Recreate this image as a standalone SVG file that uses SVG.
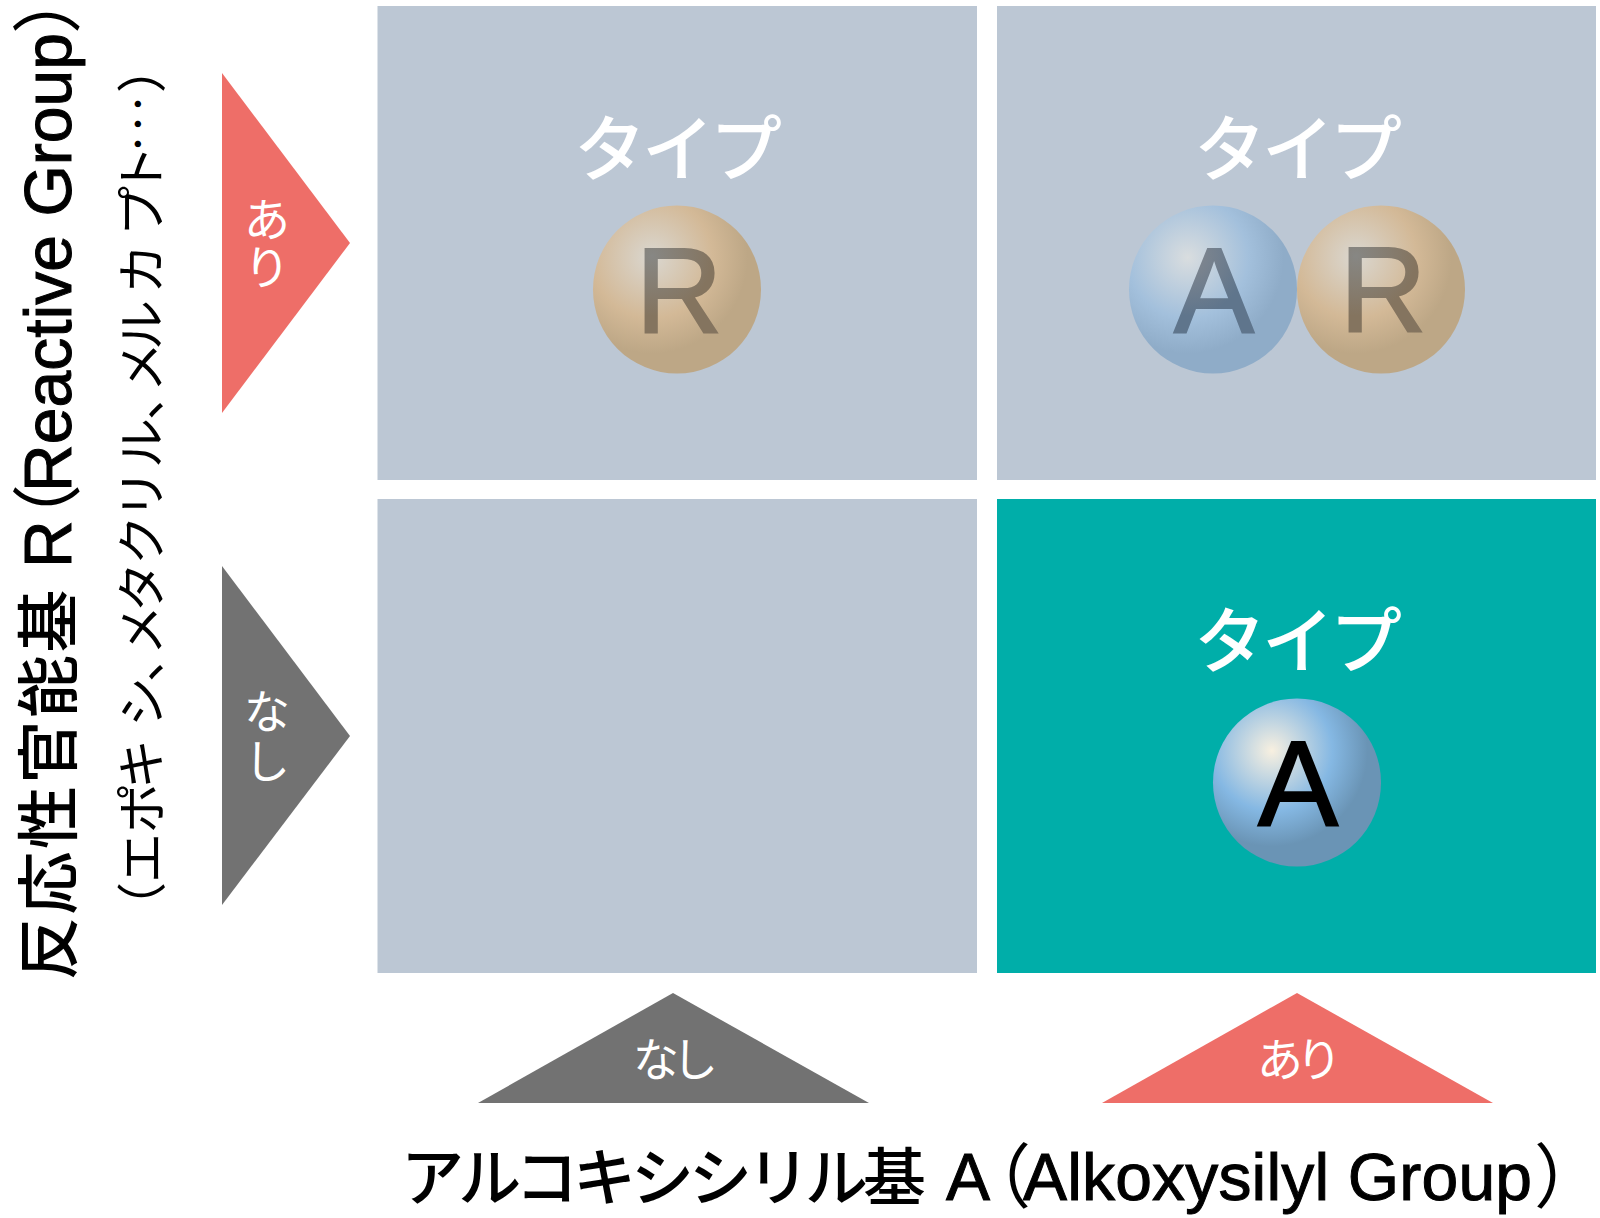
<svg xmlns="http://www.w3.org/2000/svg" width="1600" height="1218" viewBox="0 0 1600 1218">
<defs>
<style>
.panel{fill:#bcc7d4}
.on{fill:#00aea9}
.red{fill:#ee6e68}
.gray{fill:#727272}
text{font-family:"Liberation Sans","Noto Sans CJK JP",sans-serif}
.cjk{font-family:"Noto Sans CJK JP","Liberation Sans",sans-serif}
.type{font-size:72px;font-weight:500;fill:#fff;text-anchor:middle;letter-spacing:-4px}
.tri{font-size:46px;font-weight:400;fill:#fff;text-anchor:middle}
.ball{font-size:120px;text-anchor:middle;stroke-width:2px}
.main{font-size:66px;fill:#000;stroke:#000;stroke-width:1px}
.paren{font-size:70px;fill:#000}
.mainj{font-size:63px;font-weight:500;fill:#000}
.sub{font-size:50px;fill:#000}
.dots{font-size:30px;fill:#000}
</style>
<radialGradient id="gA" cx="0.35" cy="0.31" r="0.62"><stop offset="0" stop-color="#d9dddf"/><stop offset="0.58" stop-color="#a3c0dc"/><stop offset="0.92" stop-color="#8facc8"/></radialGradient>
<radialGradient id="gR" cx="0.35" cy="0.31" r="0.62"><stop offset="0" stop-color="#dad7d0"/><stop offset="0.58" stop-color="#d3b997"/><stop offset="0.92" stop-color="#bda786"/></radialGradient>
<radialGradient id="gAon" cx="0.35" cy="0.31" r="0.62"><stop offset="0" stop-color="#f8f0e0"/><stop offset="0.58" stop-color="#85b8e3"/><stop offset="0.92" stop-color="#6a94b5"/></radialGradient>
<radialGradient id="tA" gradientUnits="userSpaceOnUse" cx="1188" cy="256" r="60"><stop offset="0" stop-color="#85898f"/><stop offset="1" stop-color="#5f758c"/></radialGradient>
<radialGradient id="tR" gradientUnits="userSpaceOnUse" cx="1356" cy="256" r="60"><stop offset="0" stop-color="#878784"/><stop offset="1" stop-color="#84745f"/></radialGradient>
<radialGradient id="tR1" gradientUnits="userSpaceOnUse" cx="652" cy="256" r="60"><stop offset="0" stop-color="#878784"/><stop offset="1" stop-color="#84745f"/></radialGradient>
</defs>
<g id="cell-r">
<rect class="panel" x="377.500" y="6" width="599.500" height="474"/>
<text class="cjk type" x="676" y="175">タイプ</text>
<circle cx="677" cy="289.500" r="84" fill="url(#gR)"/>
<text class="ball" x="679" y="333" fill="url(#tR1)" stroke="url(#tR1)">R</text>
</g>
<g id="cell-ar">
<rect class="panel" x="997" y="6" width="599" height="474"/>
<text class="cjk type" x="1296" y="175">タイプ</text>
<circle cx="1213" cy="289.500" r="84" fill="url(#gA)"/>
<text class="ball" x="1214" y="332" fill="url(#tA)" stroke="url(#tA)">A</text>
<circle cx="1381" cy="289.500" r="84" fill="url(#gR)"/>
<text class="ball" x="1383" y="332" fill="url(#tR)" stroke="url(#tR)">R</text>
</g>
<g id="cell-none"><rect class="panel" x="377.500" y="499" width="599.500" height="474"/></g>
<g id="cell-a">
<rect class="on" x="997" y="499" width="599" height="474"/>
<text class="cjk type" x="1296" y="667">タイプ</text>
<circle cx="1297" cy="782.500" r="84" fill="url(#gAon)"/>
<text class="ball" x="1298" y="825" fill="#000" stroke="#000">A</text>
</g>
<g id="tri-r-yes">
<polygon class="red" points="222,73 350,243 222,413"/>
<text class="cjk tri" x="267" y="236">あ</text><text class="cjk tri" x="267" y="284">り</text>
</g>
<g id="tri-r-no">
<polygon class="gray" points="222,566 350,736 222,905"/>
<text class="cjk tri" x="267" y="728">な</text><text class="cjk tri" x="267" y="778">し</text>
</g>
<g id="tri-a-no">
<polygon class="gray" points="478,1103 673,993 869,1103"/>
<text class="cjk tri" x="672" y="1076" letter-spacing="-7">なし</text>
</g>
<g id="tri-a-yes">
<polygon class="red" points="1102,1103 1297,993 1493,1103"/>
<text class="cjk tri" x="1296" y="1076" letter-spacing="-7">あり</text>
</g>
<g id="label-r" transform="translate(71,978) rotate(-90)">
<text class="cjk mainj" x="-2" y="0" letter-spacing="2.500">反応性官能基</text>
<text class="main" x="410" y="0">R</text>
<text class="cjk paren" x="424" y="2">（</text>
<text class="main" x="486" y="0" textLength="459">Reactive Group</text>
<text class="cjk paren" x="944" y="2">）</text>
</g>
<g id="label-r-sub" transform="translate(160,900) rotate(-90)">
<text class="cjk sub" x="-32 17 67 111 173 218 245 288 335 381 432 480 508 550 606 664 705" y="0">（エポキシ、メタクリル、メルカプト</text>
<text class="cjk dots" x="741 761 781" y="-11">・・・</text>
<text class="cjk sub" x="807" y="0">）</text>
</g>
<g id="label-a">
<text class="cjk mainj" x="401" y="1200" letter-spacing="-5">アルコキシシリル基</text>
<text class="main" x="946" y="1200">A</text>
<text class="cjk paren" x="961" y="1202">（</text>
<text class="main" x="1023" y="1200" textLength="509">Alkoxysilyl Group</text>
<text class="cjk paren" x="1534" y="1202">）</text>
</g>
</svg>
